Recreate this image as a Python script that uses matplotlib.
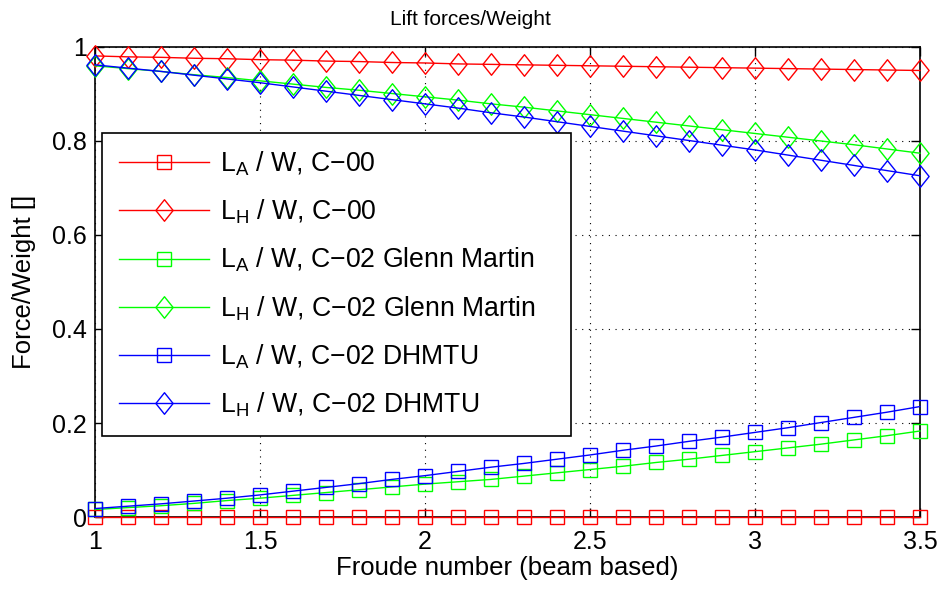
import numpy as np
import matplotlib
matplotlib.use("Agg")
import matplotlib.pyplot as plt
from matplotlib.path import Path
from matplotlib.ticker import FormatStrFormatter

# Froude number (beam based)
froude = [1.0, 1.1, 1.2, 1.3, 1.4, 1.5, 1.6, 1.7, 1.8, 1.9,
          2.0, 2.1, 2.2, 2.3, 2.4, 2.5, 2.6, 2.7, 2.8, 2.9,
          3.0, 3.1, 3.2, 3.3, 3.4, 3.5]

# Lift / weight ratios
la_c00 = [0.0] * 26
lh_c00 = [0.981, 0.979, 0.978, 0.976, 0.975, 0.973, 0.972, 0.970, 0.969, 0.967,
          0.966, 0.964, 0.963, 0.962, 0.961, 0.960, 0.959, 0.958, 0.957, 0.956,
          0.955, 0.954, 0.953, 0.952, 0.951, 0.950]
la_glenn = [0.016, 0.020, 0.024, 0.029, 0.035, 0.040, 0.046, 0.052, 0.058, 0.064,
            0.070, 0.075, 0.080, 0.087, 0.094, 0.101, 0.108, 0.116, 0.123, 0.131,
            0.139, 0.147, 0.155, 0.164, 0.173, 0.183]
lh_glenn = [0.960, 0.954, 0.948, 0.941, 0.935, 0.928, 0.921, 0.914, 0.908, 0.901,
            0.894, 0.887, 0.879, 0.872, 0.864, 0.856, 0.848, 0.840, 0.832, 0.824,
            0.816, 0.808, 0.800, 0.792, 0.783, 0.774]
la_dhmtu = [0.018, 0.023, 0.028, 0.034, 0.040, 0.047, 0.055, 0.063, 0.071, 0.080,
            0.088, 0.097, 0.106, 0.114, 0.123, 0.132, 0.142, 0.151, 0.161, 0.170,
            0.180, 0.190, 0.201, 0.212, 0.223, 0.235]
lh_dhmtu = [0.962, 0.955, 0.948, 0.940, 0.932, 0.924, 0.915, 0.906, 0.897, 0.888,
            0.879, 0.870, 0.860, 0.851, 0.841, 0.831, 0.821, 0.811, 0.801, 0.791,
            0.781, 0.770, 0.759, 0.748, 0.737, 0.726]

labels = [
    r"L$_{\mathregular{A}}$ / W, C$-$00",
    r"L$_{\mathregular{H}}$ / W, C$-$00",
    r"L$_{\mathregular{A}}$ / W, C$-$02 Glenn Martin",
    r"L$_{\mathregular{H}}$ / W, C$-$02 Glenn Martin",
    r"L$_{\mathregular{A}}$ / W, C$-$02 DHMTU",
    r"L$_{\mathregular{H}}$ / W, C$-$02 DHMTU",
]

plt.rcParams["font.family"] = ["Liberation Sans", "DejaVu Sans"]
plt.rcParams["mathtext.fontset"] = "custom"
plt.rcParams["mathtext.rm"] = "Liberation Sans"
plt.rcParams["mathtext.it"] = "Liberation Sans"
plt.rcParams["mathtext.default"] = "regular"

# tall MATLAB-style diamond
diamond = Path([(0, 1), (0.8, 0), (0, -1), (-0.8, 0), (0, 1)],
               [Path.MOVETO, Path.LINETO, Path.LINETO, Path.LINETO, Path.CLOSEPOLY])

fig = plt.figure(figsize=(9.43, 5.91), dpi=100)
ax = fig.add_axes([0.1007, 0.1252, 0.8749, 0.7953])

series = [
    (la_c00, "#ff0000", "s", 10),
    (lh_c00, "#ff0000", diamond, 15.5),
    (la_glenn, "#00ff00", "s", 10),
    (lh_glenn, "#00ff00", diamond, 15.5),
    (la_dhmtu, "#0000ff", "s", 10),
    (lh_dhmtu, "#0000ff", diamond, 15.5),
]
for (vals, col, mk, ms), lab in zip(series, labels):
    ax.plot(froude, vals, color=col, lw=1.0, marker=mk, ms=ms,
            mfc="none", mec=col, mew=1.0, label=lab, clip_on=False, zorder=3)

ax.set_xlim(1, 3.5)
ax.set_ylim(0, 1)
ax.set_xticks([1, 1.5, 2, 2.5, 3, 3.5])
ax.set_yticks([0, 0.2, 0.4, 0.6, 0.8, 1])
ax.xaxis.set_major_formatter(FormatStrFormatter("%g"))
ax.yaxis.set_major_formatter(FormatStrFormatter("%g"))
ax.tick_params(direction="in", length=6.5, width=1.0, top=True, right=True,
               labelsize=18, colors="black")
ax.tick_params(axis="x", pad=9)
ax.tick_params(axis="y", pad=6)
ax.grid(True, color="black", linestyle=(0, (1, 5)), linewidth=0.8)
ax.set_axisbelow(True)
for sp in ax.spines.values():
    sp.set_linewidth(1.2)

ax.set_title("Lift forces/Weight", fontsize=15, x=0.455, pad=16)
ax.set_xlabel("Froude number (beam based)", fontsize=18.5, labelpad=2)
ax.set_ylabel("Force/Weight []", fontsize=18.5, labelpad=11)

leg = ax.legend(loc="upper left", bbox_to_anchor=(0.0085, 0.181, 0.568, 0.636),
                mode="expand", fontsize=19.2,
                frameon=True, fancybox=False, edgecolor="black", framealpha=1,
                handlelength=3.4, handletextpad=0.4, labelspacing=0.74,
                borderpad=0.62, borderaxespad=0.0)
leg.get_frame().set_linewidth(1.2)
leg.set_zorder(5)

fig.savefig("out.png", dpi=100, facecolor="white")
